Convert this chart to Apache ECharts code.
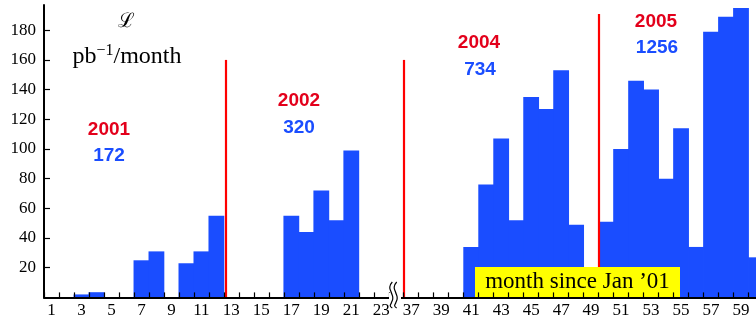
<!DOCTYPE html>
<html>
<head>
<meta charset="utf-8">
<script src="https://cdn.jsdelivr.net/npm/echarts@6/dist/echarts.min.js"></script>
<style>html,body{margin:0;padding:0;background:#fff}#c{width:756px;height:326px}</style>
</head>
<body>
<div id="c"></div>
<script>
// ---- data (months since Jan '01, luminosity pb^-1 per month) ----
const months = [3, 4, 7, 8, 10, 11, 12, 17, 18, 19, 20, 21,
  41, 42, 43, 44, 45, 46, 47, 48, 50, 51, 52, 53, 54, 55, 56, 57, 58, 59, 60];
const lumi = [2, 3.5, 25, 31, 23, 31, 55, 55, 44, 72, 52, 99,
  34, 76, 107, 52, 135, 127, 153, 49, 51, 100, 146, 140, 80, 114, 34, 179, 189, 195, 27];
const tickMonths = [1, 3, 5, 7, 9, 11, 13, 15, 17, 19, 21, 23, 37, 39, 41, 43, 45, 47, 49, 51, 53, 55, 57, 59];
const yTicks = [20, 40, 60, 80, 100, 120, 140, 160, 180];
const yearNames = ['2001', '2002', '2004', '2005'];
const yearTotals = ['172', '320', '734', '1256'];
const yearBoundaryMonths = [12.6, 36.5, 49.5];
const yearBoundaryTops = [160, 160, 191];

// axis break: months 25..36 are skipped
const pos = m => (m <= 24 ? m : m - 12);
const monthOf = p => (p <= 24 ? p : p + 12);

const barData = months.map((m, i) => [pos(m), lumi[i]]);
const boundaries = [];
for (let p = 0.5; p <= 47.5; p += 1) boundaries.push(p);

const BLUE = '#1a4dff', RED = '#e3001b';
const serif = 'Liberation Serif';

const chart = echarts.init(document.getElementById('c'), null, { renderer: 'canvas' });

const yearPos = [[109, 130], [299, 101], [479, 43], [656, 22]];
const totPos = [[109, 156], [299, 128], [480, 70], [657, 48]];
const graphics = [];
yearNames.forEach((t, i) => {
  graphics.push({ type: 'text', z: 10, x: yearPos[i][0], y: yearPos[i][1],
    style: { text: t, fill: RED, font: 'bold 19px "Liberation Sans"', align: 'center', verticalAlign: 'middle' } });
  graphics.push({ type: 'text', z: 10, x: totPos[i][0], y: totPos[i][1],
    style: { text: yearTotals[i], fill: BLUE, font: 'bold 19px "Liberation Sans"', align: 'center', verticalAlign: 'middle' } });
});
// axis titles
graphics.push({ type: 'text', z: 10, x: 126, y: 22,
  style: { text: 'ℒ', fill: '#000', font: '20px "DejaVu Serif"', align: 'center', verticalAlign: 'middle' } });
graphics.push({ type: 'text', z: 10, x: 127, y: 56,
  style: { text: '{a|pb}{b|−1}{a|/month}', align: 'center', verticalAlign: 'middle',
    rich: {
      a: { fontFamily: serif, fontSize: 24, fill: '#000', lineHeight: 26, verticalAlign: 'bottom' },
      b: { fontFamily: serif, fontSize: 16, fill: '#000', lineHeight: 26, verticalAlign: 'top' }
    } } });
// x-axis title box (covers bars and year lines, below the axis)
graphics.push({ type: 'rect', z: 50, shape: { x: 475, y: 267, width: 205, height: 30 }, style: { fill: '#ffff00' } });
graphics.push({ type: 'text', z: 51, x: 577.5, y: 281.5,
  style: { text: "month since Jan ’01", fill: '#000', font: '23px "Liberation Serif"', align: 'center', verticalAlign: 'middle' } });
// axis break symbol
graphics.push({ type: 'rect', z: 120, shape: { x: 389, y: 293, width: 12, height: 8 }, style: { fill: '#fff' } });
[391.3, 395.7].forEach(x => {
  graphics.push({ type: 'polyline', z: 121,
    shape: { points: [[x + 1, 282], [x - 1.5, 287], [x, 292.5], [x + 1.5, 298], [x, 303], [x - 1, 306], [x + 1, 308]], smooth: 0.5 },
    style: { stroke: '#000', lineWidth: 1.2, fill: null } });
});

chart.setOption({
  animation: false,
  grid: { left: 44, right: 0, top: 5, bottom: 28.6, containLabel: false },
  xAxis: {
    type: 'value', min: 0.5, max: 48, z: 100,
    splitLine: { show: false },
    axisLine: { show: true, onZero: false, lineStyle: { color: '#000', width: 2 } },
    axisTick: { show: true, inside: true, length: 5, customValues: boundaries, lineStyle: { color: '#000', width: 1.2 } },
    axisLabel: {
      customValues: tickMonths.map(pos), margin: 5,
      fontFamily: serif, fontSize: 17, color: '#000',
      formatter: v => String(monthOf(v))
    }
  },
  yAxis: {
    type: 'value', min: 0, max: 197, z: 100,
    splitLine: { show: false },
    axisLine: { show: true, lineStyle: { color: '#000', width: 2 } },
    axisTick: { show: true, inside: true, length: 6, customValues: yTicks, lineStyle: { color: '#000', width: 1.2 } },
    axisLabel: { customValues: yTicks, margin: 8, fontFamily: serif, fontSize: 17, color: '#000' }
  },
  series: [{
    type: 'bar', data: barData, barWidth: 15.8, z: 2, clip: true,
    itemStyle: { color: BLUE },
    markLine: {
      silent: true, symbol: 'none', label: { show: false }, z: 3,
      lineStyle: { color: '#ff0000', width: 2.2, type: 'solid' },
      data: yearBoundaryMonths.map((m, i) => [{ coord: [pos(m), 0] }, { coord: [pos(m), yearBoundaryTops[i]] }])
    }
  }],
  graphic: graphics
});
</script>
</body>
</html>
